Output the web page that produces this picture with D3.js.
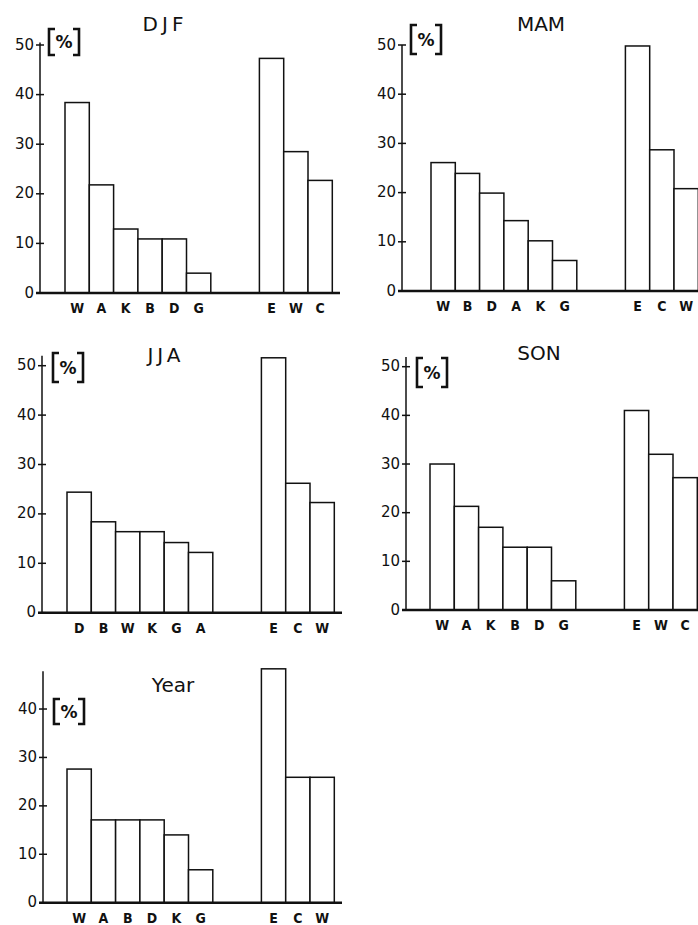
<!DOCTYPE html>
<html lang="en">
<head>
<meta charset="UTF-8">
<title>Frequency by season</title>
<script src="https://d3js.org/d3.v7.min.js"></script>
<style>
    body { margin: 0; background: #fff; }
    svg { display: block; }
    .bar { fill: #fff; stroke: #111; stroke-width: 1.5px; }
    .base { stroke: #111; stroke-width: 2.6px; }
    .axis { stroke: #111; stroke-width: 1.5px; }
    text { fill: #111; font-family: "DejaVu Sans", sans-serif; }
    .cat { font-family: "DejaVu Sans Condensed", "DejaVu Sans", sans-serif; font-weight: bold; }
</style>
</head>
<body>
<svg id="chart" width="698" height="925"></svg>
<script>
    // data
    const panelNames = ["DJF", "MAM", "JJA", "SON", "Year"];
    const leftCats = [
        ["W", "A", "K", "B", "D", "G"],
        ["W", "B", "D", "A", "K", "G"],
        ["D", "B", "W", "K", "G", "A"],
        ["W", "A", "K", "B", "D", "G"],
        ["W", "A", "B", "D", "K", "G"]
    ];
    const leftVals = [
        [38.4, 21.8, 12.9, 10.9, 10.9, 4.0],
        [26.1, 23.9, 19.9, 14.3, 10.2, 6.2],
        [24.4, 18.4, 16.4, 16.4, 14.2, 12.2],
        [30.0, 21.3, 17.0, 12.9, 12.9, 6.0],
        [27.6, 17.1, 17.1, 17.1, 14.0, 6.8]
    ];
    const rightCats = [
        ["E", "W", "C"],
        ["E", "C", "W"],
        ["E", "C", "W"],
        ["E", "W", "C"],
        ["E", "C", "W"]
    ];
    const rightVals = [
        [47.3, 28.5, 22.7],
        [49.8, 28.7, 20.8],
        [51.6, 26.2, 22.3],
        [41.0, 32.0, 27.2],
        [48.3, 25.9, 25.9]
    ];
    const yTicks = [
        [0, 10, 20, 30, 40, 50],
        [0, 10, 20, 30, 40, 50],
        [0, 10, 20, 30, 40, 50],
        [0, 10, 20, 30, 40, 50],
        [0, 10, 20, 30, 40]
    ];
    const axisTop = [50.5, 50, 52, 52, 47.8];

    // panel placement (pixels)
    const layout = [
        {ax: 40,  y0: 293,   y50: 45,    bx: 65,  tx: 165, ty: 31,  px: 49,  py: 29,  ph: 26, end: 340},
        {ax: 402, y0: 291,   y50: 45,    bx: 431, tx: 541, ty: 31,  px: 411, py: 25,  ph: 29, end: 700},
        {ax: 42,  y0: 612.7, y50: 365.7, bx: 67,  tx: 166, ty: 362, px: 53,  py: 353, ph: 29, end: 342},
        {ax: 406, y0: 610,   y50: 366.7, bx: 430, tx: 539, ty: 360, px: 417, py: 358, ph: 29, end: 700},
        {ax: 43,  y0: 902.7, y50: 660.6, bx: 67,  tx: 173, ty: 692, px: 54,  py: 699, ph: 25, end: 342}
    ];
    const barW = 24.3;
    const nSlots = 11; // 6 bars, 2 empty slots, 3 bars

    const svg = d3.select("#chart");

    panelNames.forEach((name, p) => {
        const L = layout[p];
        const g = svg.append("g");

        const y = d3.scaleLinear().domain([0, 50]).range([L.y0, L.y50]);
        const x = d3.scaleBand().domain(d3.range(nSlots))
            .range([L.bx, L.bx + nSlots * barW]).padding(0);

        const bars = leftVals[p].map((v, i) => ({v, cat: leftCats[p][i], slot: i}))
            .concat(rightVals[p].map((v, i) => ({v, cat: rightCats[p][i], slot: 8 + i})));

        // bars
        g.selectAll("rect.bar")
            .data(bars)
            .enter().append("rect")
            .attr("class", "bar")
            .attr("x", d => x(d.slot))
            .attr("width", x.bandwidth())
            .attr("y", d => y(d.v))
            .attr("height", d => y(0) - y(d.v));

        // category labels
        g.selectAll("text.cat")
            .data(bars)
            .enter().append("text")
            .attr("class", "cat")
            .attr("x", d => x(d.slot) + x.bandwidth() / 2)
            .attr("y", y(0) + 20)
            .attr("text-anchor", "middle")
            .attr("font-size", 14)
            .text(d => d.cat);

        // y axis line
        g.append("line").attr("class", "axis")
            .attr("x1", L.ax).attr("x2", L.ax)
            .attr("y1", y(0)).attr("y2", y(axisTop[p]));

        // cross ticks
        g.selectAll("line.tick")
            .data(yTicks[p])
            .enter().append("line")
            .attr("class", "axis")
            .attr("x1", L.ax - 4).attr("x2", L.ax + 4)
            .attr("y1", d => y(d)).attr("y2", d => y(d));

        g.selectAll("text.tick")
            .data(yTicks[p])
            .enter().append("text")
            .attr("x", L.ax - 6)
            .attr("y", d => y(d) + 4.5)
            .attr("text-anchor", "end")
            .attr("font-size", 15)
            .text(d => d);

        // baseline
        g.append("line").attr("class", "base")
            .attr("x1", L.ax - 4).attr("x2", L.end)
            .attr("y1", y(0)).attr("y2", y(0));

        // title
        g.append("text")
            .attr("x", L.tx).attr("y", L.ty)
            .attr("text-anchor", "middle")
            .attr("font-size", 20)
            .attr("letter-spacing", name.length === 3 && name !== "MAM" && name !== "SON" ? 4 : 0)
            .text(name);

        // [%] unit label
        const bw = 30;
        g.append("path")
            .attr("d", `M${L.px + 6},${L.py} H${L.px} V${L.py + L.ph} H${L.px + 6}` +
                       `M${L.px + bw - 6},${L.py} H${L.px + bw} V${L.py + L.ph} H${L.px + bw - 6}`)
            .attr("fill", "none").attr("stroke", "#111").attr("stroke-width", 2.6);
        g.append("text")
            .attr("x", L.px + bw / 2).attr("y", L.py + L.ph / 2 + 6)
            .attr("text-anchor", "middle")
            .attr("font-size", 17)
            .attr("font-weight", "bold")
            .text("%");
    });
</script>
</body>
</html>
